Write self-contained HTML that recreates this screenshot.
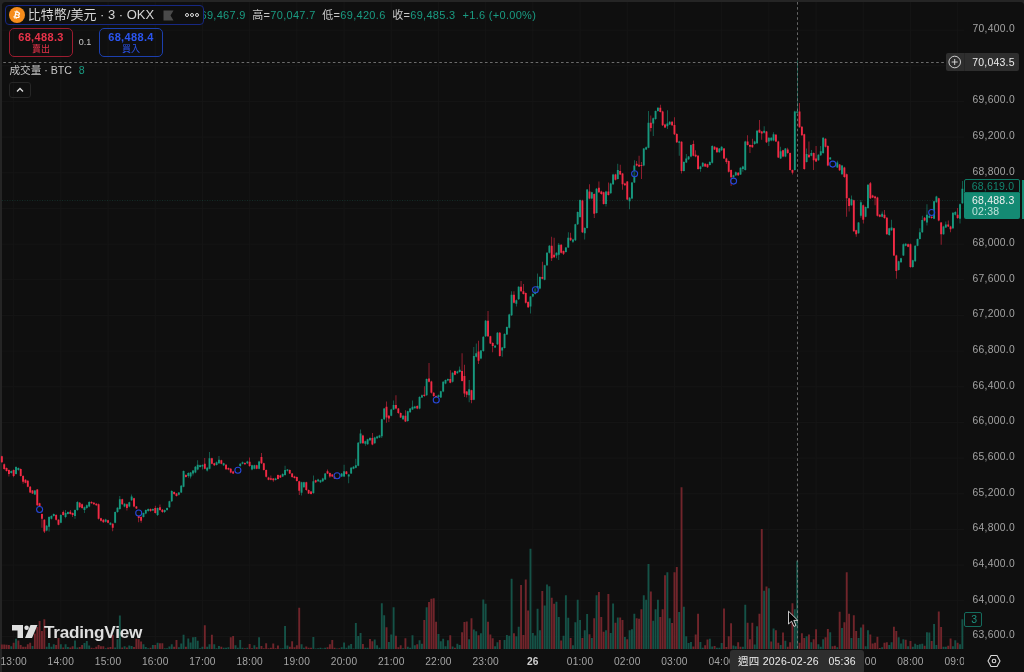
<!DOCTYPE html>
<html lang="zh-Hant">
<head>
<meta charset="utf-8">
<title>比特幣/美元 · 3 · OKX</title>
<style>
html,body{margin:0;padding:0;background:#252525;}
body{width:1024px;height:672px;position:relative;overflow:hidden;font-family:"Liberation Sans","Noto Sans CJK TC",sans-serif;color:#d1d4dc;}
#ui{position:absolute;left:0;top:0;width:1024px;height:672px;will-change:transform;}
#pane{position:absolute;left:2.4px;top:2px;width:1021.6px;height:670px;background:#0f0f0f;border-radius:3.5px 3.5px 0 0;}
svg#chart{position:absolute;left:0;top:0;}
.pl{position:absolute;left:964px;width:51px;text-align:right;font-size:10.3px;line-height:16px;letter-spacing:0.3px;color:#a4a4a4;white-space:nowrap;}
#axis{position:absolute;left:0;top:650px;width:964px;height:22px;overflow:hidden;}
.tl{position:absolute;top:3.7px;width:60px;text-align:center;font-size:10.2px;line-height:16px;letter-spacing:0.2px;color:#a4a4a4;white-space:nowrap;}
.tl.b{font-weight:bold;color:#cfcfcf;}
#title{position:absolute;left:4.8px;top:4.6px;width:197px;height:18.2px;border:1.2px solid #172882;border-radius:4px;background:#0f0f0f;}
#coin{position:absolute;left:2.8px;top:1.9px;width:16px;height:16px;border-radius:50%;background:#f68c1b;color:#fff;font-size:8.8px;font-weight:bold;line-height:16px;text-align:center;}
#coin span{display:block;transform:rotate(13deg);}
#tname{position:absolute;left:22px;top:-1px;font-size:13px;line-height:20px;color:#d6d6d6;white-space:nowrap;letter-spacing:0px;}
#ohlc span{position:absolute;top:7.3px;font-size:11px;line-height:16px;white-space:nowrap;color:#c8c8c8;letter-spacing:0.3px;}
#ohlc b{font-weight:normal;color:#1a9b82;}
.bs{position:absolute;top:28px;width:62px;height:27px;border-radius:5px;text-align:center;}
.bs .p{font-size:11px;font-weight:bold;line-height:13px;margin-top:2px;letter-spacing:0.35px;}
.bs .t{font-size:9px;line-height:11px;}
#sell{left:9px;border:1px solid #9c1c30;color:#e8334a;}
#buy{left:99px;border:1px solid #1c3fae;color:#2b55f0;}
#spread{position:absolute;left:76px;top:36px;width:18px;text-align:center;font-size:9px;line-height:12px;color:#c8c8c8;}
#vol{position:absolute;left:9.5px;top:62px;font-size:10.6px;line-height:16px;color:#c8c8c8;white-space:nowrap;}
#vol b{font-weight:normal;color:#1a9b82;margin-left:4px;}
#collapse{position:absolute;left:9px;top:82px;width:22px;height:16px;border:1px solid #262626;border-radius:3px;box-sizing:border-box;}
#chl{position:absolute;left:946px;top:53px;width:73px;height:18px;background:#2e2e2e;border-radius:2px;}
#chl span{position:absolute;right:4.3px;top:1px;font-size:10.5px;line-height:16px;letter-spacing:0.2px;color:#ececec;}
#chl i{position:absolute;left:18px;top:0;width:1px;height:18px;background:#272727;}
#lb1{position:absolute;left:964px;top:179px;width:55.5px;height:14px;box-sizing:border-box;border:1px solid #0f7a65;border-radius:2px 2px 0 0;background:#0f0f0f;color:#12856f;font-size:10.5px;line-height:12px;letter-spacing:0.2px;text-align:right;padding-right:4.3px;}
#lb2{position:absolute;left:964px;top:193px;width:55.5px;height:26px;box-sizing:border-box;border-radius:0 0 2px 2px;background:#148a73;color:#f0f0f0;font-size:10.5px;line-height:11.3px;letter-spacing:0.2px;padding:2px 0 0 8px;}
#lb2 em{font-style:normal;color:#bfe3db;}
#strip{position:absolute;left:1022px;top:180px;width:2px;height:39px;background:#148a73;}
#v3{position:absolute;left:964px;top:612px;width:18px;height:15px;box-sizing:border-box;border:1px solid #156b5d;border-radius:2px;color:#1c917e;font-size:10.5px;line-height:13px;text-align:center;background:#0f0f0f;padding-left:2.5px;}
#tcl{position:absolute;left:730px;top:649.5px;width:134px;height:24px;background:#2e2e2e;border-radius:3px;color:#ececec;font-size:10.5px;line-height:23px;white-space:pre;letter-spacing:0.25px;}
#tcl span{position:absolute;left:8px;}
#logo{position:absolute;left:12px;top:624px;}
</style>
</head>
<body>
<div id="pane"></div>
<div id="ui">
<svg id="chart" width="1024" height="672" viewBox="0 0 1024 672">
<rect x="2" y="29.7" width="962" height="0.9" fill="#161616"/>
<rect x="2" y="65.36" width="962" height="0.9" fill="#161616"/>
<rect x="2" y="101.02" width="962" height="0.9" fill="#161616"/>
<rect x="2" y="136.68" width="962" height="0.9" fill="#161616"/>
<rect x="2" y="172.34" width="962" height="0.9" fill="#161616"/>
<rect x="2" y="208" width="962" height="0.9" fill="#161616"/>
<rect x="2" y="243.66" width="962" height="0.9" fill="#161616"/>
<rect x="2" y="279.32" width="962" height="0.9" fill="#161616"/>
<rect x="2" y="314.98" width="962" height="0.9" fill="#161616"/>
<rect x="2" y="350.64" width="962" height="0.9" fill="#161616"/>
<rect x="2" y="386.3" width="962" height="0.9" fill="#161616"/>
<rect x="2" y="421.96" width="962" height="0.9" fill="#161616"/>
<rect x="2" y="457.62" width="962" height="0.9" fill="#161616"/>
<rect x="2" y="493.28" width="962" height="0.9" fill="#161616"/>
<rect x="2" y="528.94" width="962" height="0.9" fill="#161616"/>
<rect x="2" y="564.6" width="962" height="0.9" fill="#161616"/>
<rect x="2" y="600.26" width="962" height="0.9" fill="#161616"/>
<rect x="2" y="635.92" width="962" height="0.9" fill="#161616"/>
<rect x="13.2" y="2" width="0.9" height="648" fill="#161616"/>
<rect x="60.4" y="2" width="0.9" height="648" fill="#161616"/>
<rect x="107.6" y="2" width="0.9" height="648" fill="#161616"/>
<rect x="154.8" y="2" width="0.9" height="648" fill="#161616"/>
<rect x="202" y="2" width="0.9" height="648" fill="#161616"/>
<rect x="249.2" y="2" width="0.9" height="648" fill="#161616"/>
<rect x="296.4" y="2" width="0.9" height="648" fill="#161616"/>
<rect x="343.6" y="2" width="0.9" height="648" fill="#161616"/>
<rect x="390.8" y="2" width="0.9" height="648" fill="#161616"/>
<rect x="438" y="2" width="0.9" height="648" fill="#161616"/>
<rect x="485.2" y="2" width="0.9" height="648" fill="#161616"/>
<rect x="532.4" y="2" width="0.9" height="648" fill="#161616"/>
<rect x="579.6" y="2" width="0.9" height="648" fill="#161616"/>
<rect x="626.8" y="2" width="0.9" height="648" fill="#161616"/>
<rect x="674" y="2" width="0.9" height="648" fill="#161616"/>
<rect x="721.2" y="2" width="0.9" height="648" fill="#161616"/>
<rect x="768.4" y="2" width="0.9" height="648" fill="#161616"/>
<rect x="815.6" y="2" width="0.9" height="648" fill="#161616"/>
<rect x="862.8" y="2" width="0.9" height="648" fill="#161616"/>
<rect x="910" y="2" width="0.9" height="648" fill="#161616"/>
<rect x="957.2" y="2" width="0.9" height="648" fill="#161616"/>
<path d="M10.34 646.19h1.9V649h-1.9zM15.06 638.84h1.9V649h-1.9zM31.58 645.88h1.9V649h-1.9zM45.74 646.66h1.9V649h-1.9zM48.1 643.06h1.9V649h-1.9zM50.46 646.66h1.9V649h-1.9zM52.82 644.31h1.9V649h-1.9zM59.9 644.31h1.9V649h-1.9zM64.62 644.31h1.9V649h-1.9zM66.98 647.12h1.9V649h-1.9zM74.06 640.41h1.9V649h-1.9zM76.42 647.44h1.9V649h-1.9zM83.5 643.06h1.9V649h-1.9zM85.86 640.88h1.9V649h-1.9zM88.22 645.56h1.9V649h-1.9zM104.74 648.22h1.9V649h-1.9zM114.18 647.44h1.9V649h-1.9zM116.54 639.31h1.9V649h-1.9zM118.9 615.41h1.9V649h-1.9zM123.62 646.19h1.9V649h-1.9zM128.34 645.56h1.9V649h-1.9zM130.7 645.88h1.9V649h-1.9zM142.5 644.31h1.9V649h-1.9zM144.86 647.12h1.9V649h-1.9zM147.22 648.22h1.9V649h-1.9zM151.94 645.09h1.9V649h-1.9zM156.66 642.75h1.9V649h-1.9zM163.74 648.3h1.9V649h-1.9zM166.1 648.3h1.9V649h-1.9zM168.46 646.42h1.9V649h-1.9zM170.82 644.31h1.9V649h-1.9zM177.9 647.13h1.9V649h-1.9zM180.26 643.61h1.9V649h-1.9zM182.62 634.7h1.9V649h-1.9zM187.34 638.45h1.9V649h-1.9zM189.7 642.44h1.9V649h-1.9zM192.06 637.28h1.9V649h-1.9zM194.42 637.05h1.9V649h-1.9zM196.78 640.8h1.9V649h-1.9zM199.14 648.3h1.9V649h-1.9zM201.5 646.66h1.9V649h-1.9zM206.22 646.66h1.9V649h-1.9zM208.58 644.31h1.9V649h-1.9zM213.3 644.31h1.9V649h-1.9zM215.66 648.3h1.9V649h-1.9zM218.02 645.95h1.9V649h-1.9zM222.74 647.83h1.9V649h-1.9zM225.1 647.83h1.9V649h-1.9zM227.46 647.13h1.9V649h-1.9zM234.54 645.25h1.9V649h-1.9zM236.9 647.83h1.9V649h-1.9zM239.26 640.09h1.9V649h-1.9zM241.62 647.83h1.9V649h-1.9zM246.34 647.83h1.9V649h-1.9zM253.42 645.25h1.9V649h-1.9zM258.14 637.28h1.9V649h-1.9zM279.38 648.4h1.9V649h-1.9zM281.74 648.3h1.9V649h-1.9zM284.1 626.03h1.9V649h-1.9zM286.46 645.48h1.9V649h-1.9zM300.62 644.31h1.9V649h-1.9zM302.98 647.83h1.9V649h-1.9zM312.42 637.05h1.9V649h-1.9zM314.78 648.4h1.9V649h-1.9zM317.14 648.3h1.9V649h-1.9zM319.5 647.83h1.9V649h-1.9zM321.86 648.4h1.9V649h-1.9zM324.22 647.83h1.9V649h-1.9zM336.02 648.4h1.9V649h-1.9zM340.74 647.13h1.9V649h-1.9zM343.1 642.44h1.9V649h-1.9zM345.46 647.83h1.9V649h-1.9zM347.82 645.48h1.9V649h-1.9zM350.18 644.08h1.9V649h-1.9zM352.54 648.4h1.9V649h-1.9zM354.9 622.99h1.9V649h-1.9zM357.26 636.11h1.9V649h-1.9zM359.62 633.06h1.9V649h-1.9zM364.34 647.83h1.9V649h-1.9zM366.7 647.83h1.9V649h-1.9zM373.78 639.39h1.9V649h-1.9zM376.14 645.25h1.9V649h-1.9zM378.5 647.83h1.9V649h-1.9zM380.86 603.33h1.9V649h-1.9zM383.22 615.33h1.9V649h-1.9zM387.94 642h1.9V649h-1.9zM390.3 634.5h1.9V649h-1.9zM392.66 607.33h1.9V649h-1.9zM402.1 648.33h1.9V649h-1.9zM406.82 646.67h1.9V649h-1.9zM409.18 647.83h1.9V649h-1.9zM411.54 635.33h1.9V649h-1.9zM413.9 645.33h1.9V649h-1.9zM418.62 640.33h1.9V649h-1.9zM420.98 643.67h1.9V649h-1.9zM425.7 607.33h1.9V649h-1.9zM437.5 634h1.9V649h-1.9zM439.86 641.17h1.9V649h-1.9zM442.22 638.67h1.9V649h-1.9zM444.58 646.17h1.9V649h-1.9zM446.94 640.33h1.9V649h-1.9zM451.66 646.5h1.9V649h-1.9zM456.38 643.67h1.9V649h-1.9zM458.74 645h1.9V649h-1.9zM468.18 639.17h1.9V649h-1.9zM472.9 629.5h1.9V649h-1.9zM475.26 631.17h1.9V649h-1.9zM479.98 633.17h1.9V649h-1.9zM482.34 599.5h1.9V649h-1.9zM484.7 603.67h1.9V649h-1.9zM494.14 646.17h1.9V649h-1.9zM496.5 642.33h1.9V649h-1.9zM503.58 640.04h1.9V649h-1.9zM505.94 634.93h1.9V649h-1.9zM508.3 635.69h1.9V649h-1.9zM510.66 578.63h1.9V649h-1.9zM515.38 636.21h1.9V649h-1.9zM517.74 626.74h1.9V649h-1.9zM529.54 548.69h1.9V649h-1.9zM531.9 632.88h1.9V649h-1.9zM534.26 635.44h1.9V649h-1.9zM536.62 608.83h1.9V649h-1.9zM538.98 630.32h1.9V649h-1.9zM543.7 605.5h1.9V649h-1.9zM546.06 584.52h1.9V649h-1.9zM548.42 586.31h1.9V649h-1.9zM555.5 601.66h1.9V649h-1.9zM557.86 617.01h1.9V649h-1.9zM562.58 635.69h1.9V649h-1.9zM564.94 595.26h1.9V649h-1.9zM567.3 617.78h1.9V649h-1.9zM572.02 645.16h1.9V649h-1.9zM574.38 622.13h1.9V649h-1.9zM576.74 599.87h1.9V649h-1.9zM579.1 620.08h1.9V649h-1.9zM583.82 630.32h1.9V649h-1.9zM586.18 613.94h1.9V649h-1.9zM590.9 638h1.9V649h-1.9zM595.62 595.26h1.9V649h-1.9zM605.06 630.32h1.9V649h-1.9zM609.78 632.88h1.9V649h-1.9zM612.14 603.45h1.9V649h-1.9zM616.86 617.53h1.9V649h-1.9zM623.94 636.97h1.9V649h-1.9zM628.66 630.32h1.9V649h-1.9zM631.02 629.3h1.9V649h-1.9zM633.38 613.69h1.9V649h-1.9zM642.82 595.26h1.9V649h-1.9zM645.18 599.87h1.9V649h-1.9zM647.54 564.05h1.9V649h-1.9zM652.26 620.85h1.9V649h-1.9zM654.62 609.34h1.9V649h-1.9zM656.98 599.87h1.9V649h-1.9zM666.42 572.23h1.9V649h-1.9zM668.78 618.29h1.9V649h-1.9zM678.22 611.9h1.9V649h-1.9zM682.94 606.78h1.9V649h-1.9zM685.3 636.21h1.9V649h-1.9zM687.66 643.11h1.9V649h-1.9zM690.02 642.09h1.9V649h-1.9zM699.46 642.09h1.9V649h-1.9zM701.82 647.72h1.9V649h-1.9zM708.9 638.76h1.9V649h-1.9zM711.26 646.44h1.9V649h-1.9zM715.98 647.72h1.9V649h-1.9zM718.34 647.72h1.9V649h-1.9zM720.7 643.11h1.9V649h-1.9zM732.5 645.48h1.9V649h-1.9zM734.86 646.19h1.9V649h-1.9zM741.94 646.66h1.9V649h-1.9zM744.3 604.71h1.9V649h-1.9zM753.74 644.55h1.9V649h-1.9zM756.1 626.27h1.9V649h-1.9zM763.18 590.65h1.9V649h-1.9zM767.9 588.3h1.9V649h-1.9zM772.62 628.61h1.9V649h-1.9zM779.7 645.02h1.9V649h-1.9zM784.42 640.8h1.9V649h-1.9zM793.86 609.16h1.9V649h-1.9zM796.22 560.65h1.9V649h-1.9zM805.66 636.34h1.9V649h-1.9zM810.38 642.2h1.9V649h-1.9zM817.46 644.31h1.9V649h-1.9zM819.82 646.66h1.9V649h-1.9zM822.18 639.16h1.9V649h-1.9zM829.26 632.13h1.9V649h-1.9zM836.34 647.36h1.9V649h-1.9zM841.06 627.91h1.9V649h-1.9zM850.5 637.99h1.9V649h-1.9zM857.58 637.99h1.9V649h-1.9zM859.94 627.44h1.9V649h-1.9zM864.66 646.19h1.9V649h-1.9zM867.02 630.25h1.9V649h-1.9zM881.18 647.36h1.9V649h-1.9zM888.26 645.02h1.9V649h-1.9zM890.62 642.2h1.9V649h-1.9zM897.7 637.28h1.9V649h-1.9zM900.06 643.38h1.9V649h-1.9zM902.42 639.16h1.9V649h-1.9zM907.14 646.19h1.9V649h-1.9zM911.86 646.66h1.9V649h-1.9zM914.22 643.84h1.9V649h-1.9zM916.58 645.02h1.9V649h-1.9zM918.94 644.31h1.9V649h-1.9zM921.3 643.84h1.9V649h-1.9zM926.02 632.13h1.9V649h-1.9zM928.38 632.6h1.9V649h-1.9zM933.1 623.92h1.9V649h-1.9zM935.46 645.02h1.9V649h-1.9zM942.54 646.66h1.9V649h-1.9zM944.9 646.66h1.9V649h-1.9zM951.98 646.19h1.9V649h-1.9zM954.34 640.33h1.9V649h-1.9zM959.06 644.31h1.9V649h-1.9zM961.42 619.24h1.9V649h-1.9z" fill="#155247"/>
<path d="M0.9 644.62h1.9V649h-1.9zM3.26 644.62h1.9V649h-1.9zM5.62 644.78h1.9V649h-1.9zM7.98 645.09h1.9V649h-1.9zM12.7 642.75h1.9V649h-1.9zM17.42 640.41h1.9V649h-1.9zM19.78 645.09h1.9V649h-1.9zM22.14 646.66h1.9V649h-1.9zM24.5 646.66h1.9V649h-1.9zM26.86 644.31h1.9V649h-1.9zM29.22 642.75h1.9V649h-1.9zM33.94 633.38h1.9V649h-1.9zM36.3 627.12h1.9V649h-1.9zM38.66 620.88h1.9V649h-1.9zM41.02 631.03h1.9V649h-1.9zM43.38 619.31h1.9V649h-1.9zM55.18 645.09h1.9V649h-1.9zM57.54 638.06h1.9V649h-1.9zM62.26 647.44h1.9V649h-1.9zM69.34 647.44h1.9V649h-1.9zM71.7 646.19h1.9V649h-1.9zM78.78 647.12h1.9V649h-1.9zM81.14 645.09h1.9V649h-1.9zM90.58 647.75h1.9V649h-1.9zM92.94 648.22h1.9V649h-1.9zM95.3 646.66h1.9V649h-1.9zM97.66 645.09h1.9V649h-1.9zM100.02 646.19h1.9V649h-1.9zM102.38 646.19h1.9V649h-1.9zM107.1 647.44h1.9V649h-1.9zM109.46 647.12h1.9V649h-1.9zM111.82 634.94h1.9V649h-1.9zM121.26 647.44h1.9V649h-1.9zM125.98 647.44h1.9V649h-1.9zM133.06 647.12h1.9V649h-1.9zM135.42 638.84h1.9V649h-1.9zM137.78 639.31h1.9V649h-1.9zM140.14 641.5h1.9V649h-1.9zM149.58 647.75h1.9V649h-1.9zM154.3 645.09h1.9V649h-1.9zM159.02 643.14h1.9V649h-1.9zM161.38 643.14h1.9V649h-1.9zM173.18 646.66h1.9V649h-1.9zM175.54 640.09h1.9V649h-1.9zM184.98 646.66h1.9V649h-1.9zM203.86 625.33h1.9V649h-1.9zM210.94 634.7h1.9V649h-1.9zM220.38 646.66h1.9V649h-1.9zM229.82 637.28h1.9V649h-1.9zM232.18 635.88h1.9V649h-1.9zM243.98 648.3h1.9V649h-1.9zM248.7 644.08h1.9V649h-1.9zM251.06 648.3h1.9V649h-1.9zM255.78 647.13h1.9V649h-1.9zM260.5 645.95h1.9V649h-1.9zM262.86 648.3h1.9V649h-1.9zM265.22 643.14h1.9V649h-1.9zM267.58 648.3h1.9V649h-1.9zM269.94 647.83h1.9V649h-1.9zM272.3 643.61h1.9V649h-1.9zM274.66 648.3h1.9V649h-1.9zM277.02 645.48h1.9V649h-1.9zM288.82 646.66h1.9V649h-1.9zM291.18 641.27h1.9V649h-1.9zM293.54 647.13h1.9V649h-1.9zM295.9 645.25h1.9V649h-1.9zM298.26 607.75h1.9V649h-1.9zM305.34 646.42h1.9V649h-1.9zM307.7 647.83h1.9V649h-1.9zM310.06 647.83h1.9V649h-1.9zM326.58 647.13h1.9V649h-1.9zM328.94 644.31h1.9V649h-1.9zM331.3 640.09h1.9V649h-1.9zM333.66 647.83h1.9V649h-1.9zM338.38 648.3h1.9V649h-1.9zM361.98 644.08h1.9V649h-1.9zM369.06 638.92h1.9V649h-1.9zM371.42 641.27h1.9V649h-1.9zM385.58 627.33h1.9V649h-1.9zM395.02 635.67h1.9V649h-1.9zM397.38 647.33h1.9V649h-1.9zM399.74 645.33h1.9V649h-1.9zM404.46 638.33h1.9V649h-1.9zM416.26 644.17h1.9V649h-1.9zM423.34 620h1.9V649h-1.9zM428.06 602h1.9V649h-1.9zM430.42 598.67h1.9V649h-1.9zM432.78 598.33h1.9V649h-1.9zM435.14 621.67h1.9V649h-1.9zM449.3 635.33h1.9V649h-1.9zM454.02 647.83h1.9V649h-1.9zM461.1 632.33h1.9V649h-1.9zM463.46 622h1.9V649h-1.9zM465.82 621.5h1.9V649h-1.9zM470.54 618.33h1.9V649h-1.9zM477.62 635.33h1.9V649h-1.9zM487.06 621.67h1.9V649h-1.9zM489.42 634.5h1.9V649h-1.9zM491.78 638.33h1.9V649h-1.9zM498.86 640h1.9V649h-1.9zM513.02 633.14h1.9V649h-1.9zM520.1 585.03h1.9V649h-1.9zM522.46 634.93h1.9V649h-1.9zM524.82 579.4h1.9V649h-1.9zM527.18 610.62h1.9V649h-1.9zM541.34 590.91h1.9V649h-1.9zM550.78 597.82h1.9V649h-1.9zM553.14 603.71h1.9V649h-1.9zM560.22 640.56h1.9V649h-1.9zM569.66 638h1.9V649h-1.9zM581.46 638h1.9V649h-1.9zM588.54 634.16h1.9V649h-1.9zM593.26 618.29h1.9V649h-1.9zM597.98 591.94h1.9V649h-1.9zM600.34 617.01h1.9V649h-1.9zM602.7 631.86h1.9V649h-1.9zM607.42 593.98h1.9V649h-1.9zM614.5 622.64h1.9V649h-1.9zM619.22 617.53h1.9V649h-1.9zM621.58 620.08h1.9V649h-1.9zM626.3 639.28h1.9V649h-1.9zM635.74 618.29h1.9V649h-1.9zM638.1 618.81h1.9V649h-1.9zM640.46 609.34h1.9V649h-1.9zM649.9 591.43h1.9V649h-1.9zM659.34 617.01h1.9V649h-1.9zM661.7 609.34h1.9V649h-1.9zM664.06 575.31h1.9V649h-1.9zM671.14 622.9h1.9V649h-1.9zM673.5 572.23h1.9V649h-1.9zM675.86 567.12h1.9V649h-1.9zM680.58 487.28h1.9V649h-1.9zM692.38 646.44h1.9V649h-1.9zM694.74 634.41h1.9V649h-1.9zM697.1 613.69h1.9V649h-1.9zM704.18 645.16h1.9V649h-1.9zM706.54 639.53h1.9V649h-1.9zM713.62 645.93h1.9V649h-1.9zM723.06 608.57h1.9V649h-1.9zM725.42 646.95h1.9V649h-1.9zM727.78 636.21h1.9V649h-1.9zM730.14 623.22h1.9V649h-1.9zM737.22 642.2h1.9V649h-1.9zM739.58 646.66h1.9V649h-1.9zM746.66 622.75h1.9V649h-1.9zM749.02 639.16h1.9V649h-1.9zM751.38 622.75h1.9V649h-1.9zM758.46 613.85h1.9V649h-1.9zM760.82 529.01h1.9V649h-1.9zM765.54 586.43h1.9V649h-1.9zM770.26 641.5h1.9V649h-1.9zM774.98 630.25h1.9V649h-1.9zM777.34 642.67h1.9V649h-1.9zM782.06 632.6h1.9V649h-1.9zM786.78 646.66h1.9V649h-1.9zM789.14 642.2h1.9V649h-1.9zM791.5 603.3h1.9V649h-1.9zM798.58 642.67h1.9V649h-1.9zM800.94 633.3h1.9V649h-1.9zM803.3 637.99h1.9V649h-1.9zM808.02 634.47h1.9V649h-1.9zM812.74 639.16h1.9V649h-1.9zM815.1 629.31h1.9V649h-1.9zM824.54 637.28h1.9V649h-1.9zM826.9 629.08h1.9V649h-1.9zM831.62 646.19h1.9V649h-1.9zM833.98 645.72h1.9V649h-1.9zM838.7 611.74h1.9V649h-1.9zM843.42 622.28h1.9V649h-1.9zM845.78 572.37h1.9V649h-1.9zM848.14 613.85h1.9V649h-1.9zM852.86 615.25h1.9V649h-1.9zM855.22 630.95h1.9V649h-1.9zM862.3 624.39h1.9V649h-1.9zM869.38 634.47h1.9V649h-1.9zM871.74 643.38h1.9V649h-1.9zM874.1 642.67h1.9V649h-1.9zM876.46 636.81h1.9V649h-1.9zM878.82 648.06h1.9V649h-1.9zM883.54 642.67h1.9V649h-1.9zM885.9 642.2h1.9V649h-1.9zM892.98 626.74h1.9V649h-1.9zM895.34 630.95h1.9V649h-1.9zM904.78 639.63h1.9V649h-1.9zM909.5 641.03h1.9V649h-1.9zM923.66 645.72h1.9V649h-1.9zM930.74 641.03h1.9V649h-1.9zM937.82 611.5h1.9V649h-1.9zM940.18 626.97h1.9V649h-1.9zM947.26 645.72h1.9V649h-1.9zM949.62 638.45h1.9V649h-1.9zM956.7 642.67h1.9V649h-1.9z" fill="#71252b"/>
<line x1="2" y1="200.5" x2="964" y2="200.5" stroke="#1a6b5b" stroke-width="1" stroke-dasharray="1 1.5" opacity="0.32"/>
<path d="M10.96 470.42h0.66V473.57h-0.66zM15.68 466.13h0.66V474.55h-0.66zM18.04 467.49h0.66V470.64h-0.66zM34.56 489.95h0.66V495.05h-0.66zM46.36 525.1h0.66V531.19h-0.66zM48.72 516.31h0.66V531.56h-0.66zM51.08 515.34h0.66V519.47h-0.66zM53.44 513.38h0.66V516.54h-0.66zM60.52 514.36h0.66V523.37h-0.66zM65.24 510.08h0.66V518.28h-0.66zM67.6 511.43h0.66V514.58h-0.66zM74.68 509.48h0.66V518.87h-0.66zM77.04 501.27h0.66V510.68h-0.66zM84.12 506.55h0.66V513.01h-0.66zM86.48 504.6h0.66V508.73h-0.66zM88.84 501.27h0.66V507.16h-0.66zM105.36 518.85h0.66V522.4h-0.66zM110.08 522.17h0.66V525.33h-0.66zM114.8 511.43h0.66V523.37h-0.66zM117.16 507.13h0.66V512.63h-0.66zM119.52 496.02h0.66V509.7h-0.66zM124.24 503.23h0.66V507.16h-0.66zM128.96 501.67h0.66V507.16h-0.66zM131.32 494.45h0.66V500.91h-0.66zM143.12 512.41h0.66V517.51h-0.66zM145.48 509.48h0.66V514.19h-0.66zM147.84 508.5h0.66V511.65h-0.66zM152.56 508.5h0.66V511.07h-0.66zM157.28 507.52h0.66V515.94h-0.66zM164.36 509.48h0.66V513.01h-0.66zM166.72 507.52h0.66V510.68h-0.66zM169.08 500.69h0.66V507.75h-0.66zM171.44 490.34h0.66V501.89h-0.66zM178.52 491.9h0.66V495.44h-0.66zM180.88 485.06h0.66V493.1h-0.66zM183.24 470.42h0.66V487.24h-0.66zM187.96 472.37h0.66V477.85h-0.66zM190.32 471.94h0.66V478.4h-0.66zM192.68 469.99h0.66V475.47h-0.66zM195.04 466.08h0.66V473.14h-0.66zM197.4 460.23h0.66V470.21h-0.66zM199.76 464.71h0.66V467.48h-0.66zM202.12 464.32h0.66V469.61h-0.66zM206.84 467.06h0.66V471.56h-0.66zM209.2 452.03h0.66V469.23h-0.66zM216.28 461.59h0.66V465.52h-0.66zM218.64 455.94h0.66V463.96h-0.66zM223.36 462.76h0.66V465.91h-0.66zM239.88 463.15h0.66V466.69h-0.66zM242.24 461.59h0.66V464.35h-0.66zM246.96 460.81h0.66V463.96h-0.66zM251.68 464.71h0.66V470.21h-0.66zM254.04 464.71h0.66V469.23h-0.66zM258.76 460.81h0.66V469.23h-0.66zM275.28 477.8h0.66V480.56h-0.66zM282.36 473.31h0.66V477.05h-0.66zM284.72 465.7h0.66V475.68h-0.66zM287.08 469.01h0.66V471.38h-0.66zM301.24 481.7h0.66V495.39h-0.66zM303.6 481.7h0.66V487.79h-0.66zM313.04 475.47h0.66V493.65h-0.66zM317.76 478.77h0.66V481.93h-0.66zM320.12 479.75h0.66V482.9h-0.66zM322.48 477.8h0.66V481.93h-0.66zM324.84 472.92h0.66V479.98h-0.66zM341.36 472.92h0.66V477.05h-0.66zM343.72 464.73h0.66V477.05h-0.66zM348.44 473.89h0.66V483.28h-0.66zM350.8 467.06h0.66V474.12h-0.66zM353.16 466.08h0.66V469.23h-0.66zM355.52 458.87h0.66V468.26h-0.66zM357.88 442.06h0.66V466.3h-0.66zM360.24 429.57h0.66V443.84h-0.66zM364.96 440.69h0.66V445.78h-0.66zM367.32 438.74h0.66V444.82h-0.66zM369.68 437.37h0.66V440.91h-0.66zM374.4 436.78h0.66V443.84h-0.66zM376.76 435.81h0.66V438.96h-0.66zM379.12 434.83h0.66V437.98h-0.66zM381.48 418.69h0.66V438.04h-0.66zM383.84 407.97h0.66V419.89h-0.66zM390.92 408.86h0.66V416.31h-0.66zM393.28 400.54h0.66V410.06h-0.66zM402.72 415.11h0.66V419.89h-0.66zM407.44 410.65h0.66V421.67h-0.66zM409.8 407.97h0.66V412.74h-0.66zM412.16 400.54h0.66V410.06h-0.66zM414.52 405.83h0.66V408.81h-0.66zM419.24 396.36h0.66V409.17h-0.66zM421.6 394.58h0.66V398.1h-0.66zM426.32 378.51h0.66V395.78h-0.66zM438.12 394.58h0.66V397.56h-0.66zM440.48 390.65h0.66V398.1h-0.66zM442.84 381.19h0.66V392.21h-0.66zM445.2 379.4h0.66V384.17h-0.66zM447.56 378.51h0.66V381.14h-0.66zM452.28 372.26h0.66V382.39h-0.66zM457 370.83h0.66V373.81h-0.66zM459.36 366.61h0.66V372.56h-0.66zM468.8 380h0.66V402.32h-0.66zM473.52 346.96h0.66V400.24h-0.66zM475.88 343.39h0.66V357.39h-0.66zM480.6 349.94h0.66V359.17h-0.66zM482.96 336.2h0.66V351.7h-0.66zM485.32 320.1h0.66V336.9h-0.66zM494.76 345.1h0.66V348.1h-0.66zM497.12 332.1h0.66V344.9h-0.66zM501.84 346.9h0.66V356.8h-0.66zM504.2 333.3h0.66V348.5h-0.66zM506.56 326.4h0.66V335.1h-0.66zM508.92 313.86h0.66V328.46h-0.66zM511.28 291.25h0.66V315.96h-0.66zM516 299.58h0.66V306.43h-0.66zM518.36 286.19h0.66V299.89h-0.66zM530.16 296.01h0.66V313.57h-0.66zM532.52 293.33h0.66V297.21h-0.66zM534.88 287.97h0.66V294.53h-0.66zM537.24 273.39h0.66V293.04h-0.66zM539.6 276.36h0.66V289.17h-0.66zM544.32 264.76h0.66V280.24h-0.66zM546.68 252.26h0.66V265.96h-0.66zM549.04 245.11h0.66V253.46h-0.66zM556.12 252.26h0.66V258.21h-0.66zM558.48 243.04h0.66V260h-0.66zM565.56 246.9h0.66V252.56h-0.66zM567.92 232.32h0.66V248.1h-0.66zM572.64 238.86h0.66V243.04h-0.66zM575 223.69h0.66V240.96h-0.66zM577.36 211.4h0.66V224.9h-0.66zM579.72 199.4h0.66V217.7h-0.66zM584.44 227.3h0.66V239.5h-0.66zM586.8 189h0.66V228.5h-0.66zM591.52 191.7h0.66V199.2h-0.66zM596.24 188.1h0.66V213.5h-0.66zM605.68 190.83h0.66V206.61h-0.66zM610.4 182.79h0.66V193.81h-0.66zM612.76 173.86h0.66V184.89h-0.66zM617.48 163.75h0.66V179.53h-0.66zM629.28 197.08h0.66V209.29h-0.66zM631.64 181.9h0.66V199.17h-0.66zM634 160.18h0.66V183.1h-0.66zM643.44 147.97h0.66V166.14h-0.66zM645.8 146.54h0.66V150.06h-0.66zM648.16 111.07h0.66V148.28h-0.66zM652.88 117.61h0.66V136.07h-0.66zM655.24 110.47h0.66V119.71h-0.66zM657.6 107.26h0.66V111.67h-0.66zM667.04 110.18h0.66V128.93h-0.66zM669.4 121.19h0.66V125.06h-0.66zM678.84 140.83h0.66V155.71h-0.66zM683.56 161.36h0.66V171.49h-0.66zM685.92 153.93h0.66V163.1h-0.66zM688.28 156.01h0.66V159.89h-0.66zM690.64 144.4h0.66V157.21h-0.66zM700.08 165.83h0.66V171.79h-0.66zM702.44 162.26h0.66V167.03h-0.66zM709.52 161.36h0.66V165.6h-0.66zM711.88 145.29h0.66V163.46h-0.66zM718.96 147.97h0.66V152.74h-0.66zM721.32 146.19h0.66V150.96h-0.66zM733.12 174.76h0.66V177.74h-0.66zM735.48 171.54h0.66V175.96h-0.66zM740.2 167.26h0.66V175.06h-0.66zM742.56 165.83h0.66V171.79h-0.66zM744.92 140.83h0.66V170.6h-0.66zM754.36 140.83h0.66V144.71h-0.66zM756.72 130.11h0.66V143.81h-0.66zM763.8 126.25h0.66V133.46h-0.66zM768.52 137.26h0.66V145.89h-0.66zM770.88 137.26h0.66V141.14h-0.66zM773.24 132.14h0.66V141.14h-0.66zM780.32 146.79h0.66V158.99h-0.66zM785.04 147.97h0.66V157.21h-0.66zM794.48 110.83h0.66V170.6h-0.66zM796.84 110.83h0.66V113.46h-0.66zM806.28 148.57h0.66V162.56h-0.66zM811 150h0.66V156.31h-0.66zM818.08 154.22h0.66V160.78h-0.66zM820.44 145.89h0.66V155.96h-0.66zM822.8 137.26h0.66V153.64h-0.66zM829.88 156.9h0.66V159.89h-0.66zM836.96 160.64h0.66V168.01h-0.66zM841.68 164.88h0.66V174.78h-0.66zM851.12 195.46h0.66V205.74h-0.66zM858.2 221.95h0.66V233.79h-0.66zM860.56 199.91h0.66V217.71h-0.66zM865.28 206.47h0.66V217.34h-0.66zM867.64 184.22h0.66V208.64h-0.66zM881.8 211.52h0.66V217.34h-0.66zM888.88 227.75h0.66V235.72h-0.66zM891.24 219.65h0.66V230.89h-0.66zM898.32 260.64h0.66V270.55h-0.66zM900.68 257.74h0.66V262.81h-0.66zM903.04 243.62h0.66V256.04h-0.66zM905.4 243.23h0.66V246.36h-0.66zM912.48 259.67h0.66V267.64h-0.66zM914.84 245.16h0.66V261.84h-0.66zM917.2 238.39h0.66V246.36h-0.66zM919.56 228.35h0.66V239.59h-0.66zM921.92 215.78h0.66V232.82h-0.66zM926.64 204.17h0.66V225.45h-0.66zM929 215.18h0.66V218.31h-0.66zM933.72 200.67h0.66V219.28h-0.66zM936.08 195.83h0.66V202.83h-0.66zM943.16 225.82h0.66V234.76h-0.66zM945.52 221.58h0.66V227.98h-0.66zM952.6 212.27h0.66V228.95h-0.66zM954.96 211.31h0.66V215.41h-0.66zM959.68 203.57h0.66V223.52h-0.66zM962.04 180.95h0.66V203.8h-0.66z" fill="#17987e" opacity="0.85"/>
<path d="M10.34 471.02h1.9V472.97h-1.9zM15.06 467.11h1.9V473.95h-1.9zM17.42 468.09h1.9V470.04h-1.9zM33.94 490.55h1.9V494.45h-1.9zM45.74 525.7h1.9V530.59h-1.9zM48.1 516.91h1.9V526.68h-1.9zM50.46 515.94h1.9V518.87h-1.9zM52.82 513.98h1.9V515.94h-1.9zM59.9 514.96h1.9V522.77h-1.9zM64.62 513.01h1.9V516.91h-1.9zM66.98 512.03h1.9V513.98h-1.9zM74.06 510.08h1.9V515.94h-1.9zM76.42 501.88h1.9V510.08h-1.9zM83.5 507.15h1.9V510.08h-1.9zM85.86 505.2h1.9V508.12h-1.9zM88.22 501.88h1.9V506.56h-1.9zM104.74 519.45h1.9V521.8h-1.9zM109.46 522.77h1.9V524.73h-1.9zM114.18 512.03h1.9V522.77h-1.9zM116.54 507.73h1.9V512.03h-1.9zM118.9 499.34h1.9V509.1h-1.9zM123.62 503.83h1.9V506.56h-1.9zM128.34 502.27h1.9V506.56h-1.9zM130.7 496.41h1.9V500.31h-1.9zM142.5 513.01h1.9V516.91h-1.9zM144.86 510.08h1.9V513.59h-1.9zM147.22 509.1h1.9V511.05h-1.9zM151.94 509.1h1.9V510.47h-1.9zM156.66 508.12h1.9V514.96h-1.9zM163.74 510.08h1.9V512.03h-1.9zM166.1 508.12h1.9V510.08h-1.9zM168.46 501.29h1.9V507.15h-1.9zM170.82 490.94h1.9V501.29h-1.9zM177.9 492.5h1.9V494.84h-1.9zM180.26 485.66h1.9V492.5h-1.9zM182.62 471.02h1.9V486.64h-1.9zM187.34 472.97h1.9V475.9h-1.9zM189.7 472.54h1.9V476.45h-1.9zM192.06 470.59h1.9V473.52h-1.9zM194.42 466.68h1.9V472.54h-1.9zM196.78 464.73h1.9V469.61h-1.9zM199.14 465.31h1.9V466.88h-1.9zM201.5 464.92h1.9V466.48h-1.9zM206.22 467.66h1.9V470.59h-1.9zM208.58 458.28h1.9V468.63h-1.9zM215.66 462.19h1.9V464.92h-1.9zM218.02 459.84h1.9V463.36h-1.9zM222.74 463.36h1.9V465.31h-1.9zM239.26 463.75h1.9V466.09h-1.9zM241.62 462.19h1.9V463.75h-1.9zM246.34 461.41h1.9V463.36h-1.9zM251.06 465.31h1.9V469.61h-1.9zM253.42 465.31h1.9V468.63h-1.9zM258.14 461.41h1.9V468.63h-1.9zM274.66 478.4h1.9V479.96h-1.9zM281.74 473.91h1.9V476.45h-1.9zM284.1 470h1.9V475.08h-1.9zM286.46 469.61h1.9V470.78h-1.9zM300.62 482.3h1.9V492.66h-1.9zM302.98 482.3h1.9V487.19h-1.9zM312.42 481.33h1.9V493.05h-1.9zM317.14 479.38h1.9V481.33h-1.9zM319.5 480.35h1.9V482.3h-1.9zM321.86 478.4h1.9V481.33h-1.9zM324.22 473.52h1.9V479.38h-1.9zM340.74 473.52h1.9V476.45h-1.9zM343.1 471.17h1.9V476.45h-1.9zM347.82 474.49h1.9V476.45h-1.9zM350.18 467.66h1.9V473.52h-1.9zM352.54 466.68h1.9V468.63h-1.9zM354.9 465.31h1.9V467.66h-1.9zM357.26 442.66h1.9V465.7h-1.9zM359.62 433.48h1.9V443.24h-1.9zM364.34 441.29h1.9V443.83h-1.9zM366.7 439.34h1.9V444.22h-1.9zM369.06 437.97h1.9V440.31h-1.9zM373.78 437.38h1.9V443.24h-1.9zM376.14 436.41h1.9V438.36h-1.9zM378.5 435.43h1.9V437.38h-1.9zM380.86 419.29h1.9V436.25h-1.9zM383.22 408.57h1.9V419.29h-1.9zM390.3 409.46h1.9V415.71h-1.9zM392.66 405h1.9V409.46h-1.9zM402.1 415.71h1.9V419.29h-1.9zM406.82 411.25h1.9V421.07h-1.9zM409.18 408.57h1.9V412.14h-1.9zM411.54 406.79h1.9V409.46h-1.9zM413.9 406.43h1.9V408.21h-1.9zM418.62 396.96h1.9V408.57h-1.9zM420.98 395.18h1.9V397.5h-1.9zM425.7 379.11h1.9V395.18h-1.9zM437.5 395.18h1.9V396.96h-1.9zM439.86 391.25h1.9V397.5h-1.9zM442.22 381.79h1.9V391.61h-1.9zM444.58 380h1.9V383.57h-1.9zM446.94 379.11h1.9V380.54h-1.9zM451.66 372.86h1.9V381.79h-1.9zM456.38 371.43h1.9V373.21h-1.9zM458.74 369.64h1.9V371.96h-1.9zM468.18 389.29h1.9V395.18h-1.9zM472.9 355.89h1.9V399.64h-1.9zM475.26 353.21h1.9V356.79h-1.9zM479.98 350.54h1.9V358.57h-1.9zM482.34 336.8h1.9V351.1h-1.9zM484.7 320.7h1.9V336.3h-1.9zM494.14 345.7h1.9V347.5h-1.9zM496.5 332.7h1.9V344.3h-1.9zM501.22 347.5h1.9V350.5h-1.9zM503.58 333.9h1.9V347.9h-1.9zM505.94 327h1.9V334.5h-1.9zM508.3 314.46h1.9V327.86h-1.9zM510.66 294.82h1.9V315.36h-1.9zM515.38 300.18h1.9V303.75h-1.9zM517.74 286.79h1.9V299.29h-1.9zM529.54 296.61h1.9V306.43h-1.9zM531.9 293.93h1.9V296.61h-1.9zM534.26 288.57h1.9V293.93h-1.9zM536.62 285.89h1.9V288.57h-1.9zM538.98 276.96h1.9V288.57h-1.9zM543.7 265.36h1.9V279.64h-1.9zM546.06 252.86h1.9V265.36h-1.9zM548.42 245.71h1.9V252.86h-1.9zM555.5 252.86h1.9V255.54h-1.9zM557.86 244.82h1.9V254.64h-1.9zM564.94 247.5h1.9V251.96h-1.9zM567.3 237.68h1.9V247.5h-1.9zM572.02 239.46h1.9V241.79h-1.9zM574.38 224.29h1.9V240.36h-1.9zM576.74 212h1.9V224.3h-1.9zM579.1 200h1.9V217.1h-1.9zM583.82 227.9h1.9V233.2h-1.9zM586.18 189.6h1.9V227.9h-1.9zM590.9 192.3h1.9V198.6h-1.9zM595.62 188.7h1.9V212.9h-1.9zM605.06 191.43h1.9V203.93h-1.9zM609.78 183.39h1.9V193.21h-1.9zM612.14 174.46h1.9V184.29h-1.9zM616.86 170h1.9V178.93h-1.9zM628.66 197.68h1.9V201.25h-1.9zM631.02 182.5h1.9V198.57h-1.9zM633.38 165.54h1.9V182.5h-1.9zM642.82 148.57h1.9V165.54h-1.9zM645.18 147.14h1.9V149.46h-1.9zM647.54 122.68h1.9V147.68h-1.9zM652.26 118.21h1.9V123.57h-1.9zM654.62 111.07h1.9V119.11h-1.9zM656.98 107.86h1.9V111.07h-1.9zM666.42 123.57h1.9V126.25h-1.9zM668.78 121.79h1.9V124.46h-1.9zM678.22 141.43h1.9V142.86h-1.9zM682.94 161.96h1.9V170.89h-1.9zM685.3 158.39h1.9V162.5h-1.9zM687.66 156.61h1.9V159.29h-1.9zM690.02 145h1.9V156.61h-1.9zM699.46 166.43h1.9V169.11h-1.9zM701.82 162.86h1.9V166.43h-1.9zM708.9 161.96h1.9V165h-1.9zM711.26 145.89h1.9V162.86h-1.9zM718.34 148.57h1.9V152.14h-1.9zM720.7 146.79h1.9V150.36h-1.9zM732.5 175.36h1.9V177.14h-1.9zM734.86 172.14h1.9V175.36h-1.9zM739.58 167.86h1.9V174.46h-1.9zM741.94 166.43h1.9V169.11h-1.9zM744.3 141.43h1.9V170h-1.9zM753.74 141.43h1.9V144.11h-1.9zM756.1 130.71h1.9V143.21h-1.9zM763.18 130.71h1.9V132.86h-1.9zM767.9 137.86h1.9V141.43h-1.9zM770.26 137.86h1.9V140.54h-1.9zM772.62 134.29h1.9V140.54h-1.9zM779.7 151.25h1.9V158.39h-1.9zM784.42 148.57h1.9V156.61h-1.9zM793.86 111.43h1.9V170h-1.9zM796.22 111.43h1.9V112.86h-1.9zM805.66 153.93h1.9V161.96h-1.9zM810.38 153.04h1.9V155.71h-1.9zM817.46 154.82h1.9V160.18h-1.9zM819.82 151.25h1.9V155.36h-1.9zM822.18 137.86h1.9V153.04h-1.9zM829.26 157.5h1.9V159.29h-1.9zM836.34 162.57h1.9V167.41h-1.9zM841.06 165.48h1.9V174.18h-1.9zM850.5 199.33h1.9V205.14h-1.9zM857.58 222.55h1.9V233.19h-1.9zM859.94 202.23h1.9V215.78h-1.9zM864.66 207.07h1.9V216.74h-1.9zM867.02 184.82h1.9V208.04h-1.9zM881.18 213.84h1.9V216.74h-1.9zM888.26 228.35h1.9V235.12h-1.9zM890.62 227.38h1.9V230.29h-1.9zM897.7 261.24h1.9V269.95h-1.9zM900.06 258.34h1.9V262.21h-1.9zM902.42 244.22h1.9V255.44h-1.9zM904.78 243.83h1.9V245.76h-1.9zM911.86 260.27h1.9V267.04h-1.9zM914.22 245.76h1.9V261.24h-1.9zM916.58 238.99h1.9V245.76h-1.9zM918.94 232.22h1.9V238.99h-1.9zM921.3 220.03h1.9V232.22h-1.9zM926.02 214.81h1.9V222.55h-1.9zM928.38 215.78h1.9V217.71h-1.9zM933.1 201.27h1.9V218.68h-1.9zM935.46 196.43h1.9V202.23h-1.9zM942.54 226.42h1.9V234.16h-1.9zM944.9 224.48h1.9V227.38h-1.9zM951.98 212.87h1.9V228.35h-1.9zM954.34 211.91h1.9V214.81h-1.9zM959.06 204.17h1.9V218.68h-1.9zM961.42 188.69h1.9V203.2h-1.9z" fill="#17987e"/>
<path d="M1.52 455.77h0.66V462.83h-0.66zM3.88 463.58h0.66V469.66h-0.66zM6.24 467.49h0.66V471.62h-0.66zM8.6 469.44h0.66V476.48h-0.66zM13.32 469.44h0.66V477.27h-0.66zM20.4 468.46h0.66V476.5h-0.66zM22.76 475.3h0.66V483.71h-0.66zM25.12 479.2h0.66V483.33h-0.66zM27.48 480.18h0.66V487.24h-0.66zM29.84 486.04h0.66V493.1h-0.66zM32.2 489.95h0.66V494.08h-0.66zM36.92 488.97h0.66V505.8h-0.66zM39.28 502.64h0.66V506.77h-0.66zM41.64 513.38h0.66V527.66h-0.66zM44 519.24h0.66V533.12h-0.66zM55.8 514.36h0.66V520.44h-0.66zM58.16 519.24h0.66V525.33h-0.66zM62.88 510.47h0.66V515.56h-0.66zM69.96 510.08h0.66V514.58h-0.66zM72.32 512.41h0.66V516.91h-0.66zM79.4 502.06h0.66V507.75h-0.66zM81.76 503.62h0.66V508.73h-0.66zM91.2 501.27h0.66V503.84h-0.66zM93.56 502.06h0.66V504.82h-0.66zM95.92 503.23h0.66V505.8h-0.66zM98.28 503.62h0.66V519.47h-0.66zM100.64 517.68h0.66V521.42h-0.66zM103 519.24h0.66V522.79h-0.66zM107.72 519.63h0.66V523.37h-0.66zM112.44 523.15h0.66V531.17h-0.66zM121.88 498.74h0.66V504.82h-0.66zM126.6 503.62h0.66V510.47h-0.66zM133.68 497.76h0.66V507.16h-0.66zM136.04 505.96h0.66V509.12h-0.66zM138.4 515.34h0.66V522.19h-0.66zM140.76 516.31h0.66V522.77h-0.66zM150.2 508.5h0.66V511.65h-0.66zM154.92 505.78h0.66V513.61h-0.66zM159.64 504.61h0.66V510.68h-0.66zM162 509.09h0.66V512.63h-0.66zM173.8 491.51h0.66V494.66h-0.66zM176.16 492.88h0.66V496.62h-0.66zM185.6 474.32h0.66V477.48h-0.66zM204.48 457.89h0.66V469.23h-0.66zM211.56 457.68h0.66V464.35h-0.66zM213.92 462.76h0.66V465.91h-0.66zM221 459.63h0.66V464.35h-0.66zM225.72 464.13h0.66V469.82h-0.66zM228.08 467.45h0.66V470.21h-0.66zM230.44 468.03h0.66V473.14h-0.66zM232.8 470.96h0.66V474.12h-0.66zM244.6 462.37h0.66V464.74h-0.66zM249.32 457.5h0.66V466.69h-0.66zM256.4 464.71h0.66V469.23h-0.66zM261.12 453.01h0.66V463.96h-0.66zM263.48 462.76h0.66V470.6h-0.66zM265.84 469.4h0.66V477.44h-0.66zM268.2 476.82h0.66V480.37h-0.66zM270.56 475.47h0.66V480.37h-0.66zM272.92 477.99h0.66V481.72h-0.66zM277.64 474.48h0.66V479.58h-0.66zM280 474.87h0.66V478.02h-0.66zM289.44 469.4h0.66V474.12h-0.66zM291.8 472.92h0.66V477.63h-0.66zM294.16 475.85h0.66V478.61h-0.66zM296.52 476.43h0.66V481.54h-0.66zM298.88 480.73h0.66V495h-0.66zM305.96 481.7h0.66V490.72h-0.66zM308.32 489.52h0.66V494.04h-0.66zM310.68 490.88h0.66V494.62h-0.66zM315.4 479.75h0.66V482.9h-0.66zM327.2 469.61h0.66V474.12h-0.66zM329.56 472.52h0.66V477.81h-0.66zM331.92 473.89h0.66V477.05h-0.66zM334.28 475.85h0.66V479h-0.66zM346.08 470.96h0.66V474.51h-0.66zM362.6 434.83h0.66V443.84h-0.66zM372.04 432.89h0.66V445.21h-0.66zM386.2 401.43h0.66V422.86h-0.66zM388.56 415.11h0.66V421.96h-0.66zM395.64 395.18h0.66V409.17h-0.66zM398 407.97h0.66V413.64h-0.66zM400.36 412.44h0.66V418.1h-0.66zM405.08 410.36h0.66V422.03h-0.66zM416.88 405.29h0.66V409.17h-0.66zM423.96 386.25h0.66V396.67h-0.66zM428.68 363.04h0.66V382.39h-0.66zM431.04 380.83h0.66V393.46h-0.66zM433.4 392.26h0.66V396.67h-0.66zM435.76 395.42h0.66V397.62h-0.66zM449.92 370.18h0.66V383.28h-0.66zM454.64 370.47h0.66V375.24h-0.66zM461.72 353.21h0.66V381.49h-0.66zM464.08 364.82h0.66V396.96h-0.66zM466.44 391.01h0.66V397.5h-0.66zM471.16 389.76h0.66V403.21h-0.66zM478.24 340.71h0.66V363.93h-0.66zM487.68 310.9h0.66V336.9h-0.66zM490.04 335.7h0.66V344h-0.66zM492.4 342.3h0.66V352.3h-0.66zM499.48 332.1h0.66V356.5h-0.66zM513.64 291.25h0.66V303.46h-0.66zM520.72 281.07h0.66V291.85h-0.66zM523.08 284.11h0.66V294.53h-0.66zM525.44 292.44h0.66V303.46h-0.66zM527.8 301.36h0.66V307.92h-0.66zM541.96 261.79h0.66V279.35h-0.66zM551.4 236.79h0.66V260.89h-0.66zM553.76 237.68h0.66V257.92h-0.66zM560.84 244.22h0.66V253.46h-0.66zM563.2 250.47h0.66V255h-0.66zM570.28 232.86h0.66V240.96h-0.66zM582.08 199.8h0.66V232.9h-0.66zM589.16 184.3h0.66V199.2h-0.66zM593.88 193.5h0.66V218h-0.66zM598.6 181.61h0.66V192.92h-0.66zM600.96 190.83h0.66V194.71h-0.66zM603.32 191.72h0.66V204.53h-0.66zM608.04 182.5h0.66V195.6h-0.66zM615.12 173.86h0.66V180.42h-0.66zM619.84 164.64h0.66V175.06h-0.66zM622.2 172.97h0.66V189.64h-0.66zM624.56 182.79h0.66V185.78h-0.66zM626.92 181.01h0.66V200.06h-0.66zM636.36 161.07h0.66V166.14h-0.66zM638.72 155.71h0.66V167.03h-0.66zM641.08 161.96h0.66V178.93h-0.66zM650.52 115.54h0.66V131.61h-0.66zM659.96 104.82h0.66V112.56h-0.66zM662.32 110.83h0.66V125.96h-0.66zM664.68 123.86h0.66V128.1h-0.66zM671.76 121.19h0.66V125.96h-0.66zM674.12 117.32h0.66V134.89h-0.66zM676.48 133.33h0.66V142.92h-0.66zM681.2 141.19h0.66V173.57h-0.66zM693 140.54h0.66V156.31h-0.66zM695.36 150.36h0.66V157.21h-0.66zM697.72 155.11h0.66V169.71h-0.66zM704.8 163.15h0.66V167.03h-0.66zM707.16 163.69h0.66V167.92h-0.66zM714.24 146.19h0.66V150.06h-0.66zM716.6 147.08h0.66V152.74h-0.66zM723.68 147.97h0.66V158.99h-0.66zM726.04 157.79h0.66V163.75h-0.66zM728.4 160.47h0.66V172.39h-0.66zM730.76 169.4h0.66V186.07h-0.66zM737.84 172.08h0.66V175.96h-0.66zM747.28 135.18h0.66V145.6h-0.66zM749.64 144.4h0.66V153.04h-0.66zM752 138.75h0.66V147.74h-0.66zM759.08 120h0.66V133.1h-0.66zM761.44 131.01h0.66V139.64h-0.66zM766.16 131.01h0.66V142.92h-0.66zM775.6 134.04h0.66V142.03h-0.66zM777.96 140.83h0.66V158.1h-0.66zM782.68 149.76h0.66V157.21h-0.66zM787.4 147.68h0.66V153.64h-0.66zM789.76 152.44h0.66V170.6h-0.66zM792.12 169.4h0.66V174.46h-0.66zM799.2 103.04h0.66V127.74h-0.66zM801.56 126.19h0.66V135.78h-0.66zM803.92 133.69h0.66V169.71h-0.66zM808.64 141.43h0.66V157.74h-0.66zM813.36 152.44h0.66V170h-0.66zM815.72 145.89h0.66V162.03h-0.66zM825.16 138.15h0.66V147.39h-0.66zM827.52 145.29h0.66V166.14h-0.66zM839.32 163.91h0.66V170.91h-0.66zM844.04 166.81h0.66V177.68h-0.66zM846.4 173.58h0.66V216.74h-0.66zM848.76 197.77h0.66V211.52h-0.66zM853.48 199.7h0.66V231.85h-0.66zM855.84 229.69h0.66V236.67h-0.66zM862.92 204.54h0.66V223.52h-0.66zM870 181.92h0.66V198.97h-0.66zM872.36 194.86h0.66V198h-0.66zM874.72 195.83h0.66V205.14h-0.66zM877.08 196.8h0.66V216.38h-0.66zM879.44 214.21h0.66V217.34h-0.66zM884.16 209.97h0.66V218.7h-0.66zM886.52 217.11h0.66V234.76h-0.66zM893.6 227.75h0.66V256.04h-0.66zM895.96 254.84h0.66V278.65h-0.66zM907.76 243.62h0.66V247.33h-0.66zM910.12 243.62h0.66V267.64h-0.66zM924.28 217.11h0.66V221.21h-0.66zM931.36 216.14h0.66V218.7h-0.66zM938.44 197.77h0.66V221.21h-0.66zM940.8 221.95h0.66V244.8h-0.66zM947.88 220.61h0.66V227.02h-0.66zM950.24 225.82h0.66V232.22h-0.66zM957.32 208.04h0.66V218.7h-0.66z" fill="#f22a45" opacity="0.85"/>
<path d="M0.9 456.37h1.9V462.23h-1.9zM3.26 464.18h1.9V469.06h-1.9zM5.62 468.09h1.9V471.02h-1.9zM7.98 470.04h1.9V473.95h-1.9zM12.7 470.04h1.9V475.9h-1.9zM19.78 469.06h1.9V475.9h-1.9zM22.14 475.9h1.9V481.76h-1.9zM24.5 479.8h1.9V482.73h-1.9zM26.86 480.78h1.9V486.64h-1.9zM29.22 486.64h1.9V492.5h-1.9zM31.58 490.55h1.9V493.48h-1.9zM36.3 489.57h1.9V505.2h-1.9zM38.66 503.24h1.9V506.17h-1.9zM41.02 513.98h1.9V518.87h-1.9zM43.38 519.84h1.9V531.56h-1.9zM55.18 514.96h1.9V519.84h-1.9zM57.54 519.84h1.9V524.73h-1.9zM62.26 512.03h1.9V514.96h-1.9zM69.34 511.64h1.9V513.98h-1.9zM71.7 513.01h1.9V514.96h-1.9zM78.78 502.66h1.9V507.15h-1.9zM81.14 504.22h1.9V508.12h-1.9zM90.58 501.88h1.9V503.24h-1.9zM92.94 502.66h1.9V504.22h-1.9zM95.3 503.83h1.9V505.2h-1.9zM97.66 504.22h1.9V518.87h-1.9zM100.02 518.28h1.9V520.82h-1.9zM102.38 519.84h1.9V522.19h-1.9zM107.1 520.23h1.9V522.77h-1.9zM111.82 523.75h1.9V527.66h-1.9zM121.26 499.34h1.9V504.22h-1.9zM125.98 504.22h1.9V508.12h-1.9zM133.06 498.36h1.9V506.56h-1.9zM135.42 506.56h1.9V508.52h-1.9zM137.78 515.94h1.9V517.89h-1.9zM140.14 516.91h1.9V520.82h-1.9zM149.58 509.1h1.9V511.05h-1.9zM154.3 508.12h1.9V513.01h-1.9zM159.02 507.15h1.9V510.08h-1.9zM161.38 509.69h1.9V512.03h-1.9zM173.18 492.11h1.9V494.06h-1.9zM175.54 493.48h1.9V496.02h-1.9zM184.98 474.92h1.9V476.88h-1.9zM203.86 463.75h1.9V468.63h-1.9zM210.94 458.28h1.9V463.75h-1.9zM213.3 463.36h1.9V465.31h-1.9zM220.38 460.23h1.9V463.75h-1.9zM225.1 464.73h1.9V469.22h-1.9zM227.46 468.05h1.9V469.61h-1.9zM229.82 468.63h1.9V472.54h-1.9zM232.18 471.56h1.9V473.52h-1.9zM243.98 462.97h1.9V464.14h-1.9zM248.7 461.8h1.9V466.09h-1.9zM255.78 465.31h1.9V468.63h-1.9zM260.5 456.91h1.9V463.36h-1.9zM262.86 463.36h1.9V470h-1.9zM265.22 470h1.9V476.84h-1.9zM267.58 477.42h1.9V479.77h-1.9zM269.94 478.2h1.9V479.77h-1.9zM272.3 478.59h1.9V480.16h-1.9zM277.02 475.08h1.9V478.98h-1.9zM279.38 475.47h1.9V477.42h-1.9zM288.82 470h1.9V473.52h-1.9zM291.18 473.52h1.9V477.03h-1.9zM293.54 476.45h1.9V478.01h-1.9zM295.9 477.03h1.9V480.94h-1.9zM298.26 481.33h1.9V490.7h-1.9zM305.34 482.3h1.9V490.12h-1.9zM307.7 490.12h1.9V493.44h-1.9zM310.06 491.48h1.9V494.02h-1.9zM314.78 480.35h1.9V482.3h-1.9zM326.58 471.17h1.9V473.52h-1.9zM328.94 473.12h1.9V476.45h-1.9zM331.3 474.49h1.9V476.45h-1.9zM333.66 476.45h1.9V478.4h-1.9zM345.46 471.56h1.9V473.91h-1.9zM361.98 435.43h1.9V443.24h-1.9zM371.42 437.97h1.9V444.61h-1.9zM385.58 406.79h1.9V417.5h-1.9zM387.94 415.71h1.9V418.39h-1.9zM395.02 405h1.9V408.57h-1.9zM397.38 408.57h1.9V413.04h-1.9zM399.74 413.04h1.9V417.5h-1.9zM404.46 415.71h1.9V421.43h-1.9zM416.26 405.89h1.9V408.57h-1.9zM423.34 394.64h1.9V396.07h-1.9zM428.06 378.57h1.9V381.79h-1.9zM430.42 381.43h1.9V392.86h-1.9zM432.78 392.86h1.9V396.07h-1.9zM435.14 396.02h1.9V397.02h-1.9zM449.3 379.11h1.9V382.68h-1.9zM454.02 371.07h1.9V374.64h-1.9zM461.1 371.07h1.9V380.89h-1.9zM463.46 376.07h1.9V393.39h-1.9zM465.82 391.61h1.9V394.64h-1.9zM470.54 390.36h1.9V400h-1.9zM477.62 351.43h1.9V360.71h-1.9zM487.06 320.7h1.9V336.3h-1.9zM489.42 336.3h1.9V343.4h-1.9zM491.78 342.9h1.9V346h-1.9zM498.86 332.7h1.9V355.9h-1.9zM513.02 294.82h1.9V302.86h-1.9zM520.1 286.79h1.9V291.25h-1.9zM522.46 291.25h1.9V293.93h-1.9zM524.82 293.04h1.9V302.86h-1.9zM527.18 301.96h1.9V307.32h-1.9zM541.34 276.96h1.9V278.75h-1.9zM550.78 245.71h1.9V258.21h-1.9zM553.14 254.64h1.9V257.32h-1.9zM560.22 244.82h1.9V252.86h-1.9zM562.58 251.07h1.9V253.75h-1.9zM569.66 237.68h1.9V240.36h-1.9zM581.46 200.4h1.9V232.3h-1.9zM588.54 191.4h1.9V198.6h-1.9zM593.26 194.1h1.9V213.7h-1.9zM597.98 187.86h1.9V192.32h-1.9zM600.34 191.43h1.9V194.11h-1.9zM602.7 192.32h1.9V203.93h-1.9zM607.42 191.43h1.9V195h-1.9zM614.5 174.46h1.9V179.82h-1.9zM619.22 170.89h1.9V174.46h-1.9zM621.58 173.57h1.9V184.29h-1.9zM623.94 183.39h1.9V185.18h-1.9zM626.3 181.61h1.9V199.46h-1.9zM635.74 163.75h1.9V165.54h-1.9zM638.1 164.64h1.9V166.43h-1.9zM640.46 165.12h1.9V166.12h-1.9zM649.9 122.68h1.9V128.04h-1.9zM659.34 107.86h1.9V111.96h-1.9zM661.7 111.43h1.9V125.36h-1.9zM664.06 124.46h1.9V127.5h-1.9zM671.14 121.79h1.9V125.36h-1.9zM673.5 125h1.9V134.29h-1.9zM675.86 133.93h1.9V142.32h-1.9zM680.58 141.79h1.9V170.89h-1.9zM692.38 144.11h1.9V155.71h-1.9zM694.74 154.82h1.9V156.61h-1.9zM697.1 155.71h1.9V169.11h-1.9zM704.18 163.75h1.9V166.43h-1.9zM706.54 164.29h1.9V167.32h-1.9zM713.62 146.79h1.9V149.46h-1.9zM715.98 147.68h1.9V152.14h-1.9zM723.06 148.57h1.9V158.39h-1.9zM725.42 158.39h1.9V161.96h-1.9zM727.78 161.07h1.9V171.79h-1.9zM730.14 170h1.9V177.14h-1.9zM737.22 172.68h1.9V175.36h-1.9zM746.66 141.43h1.9V145h-1.9zM749.02 145h1.9V146.79h-1.9zM751.38 145h1.9V147.14h-1.9zM758.46 129.82h1.9V132.5h-1.9zM760.82 131.61h1.9V133.39h-1.9zM765.54 131.61h1.9V142.32h-1.9zM774.98 134.64h1.9V141.43h-1.9zM777.34 141.43h1.9V157.5h-1.9zM782.06 150.36h1.9V156.61h-1.9zM786.78 149.46h1.9V153.04h-1.9zM789.14 153.04h1.9V170h-1.9zM791.5 170h1.9V172.68h-1.9zM798.58 111.43h1.9V127.14h-1.9zM800.94 126.79h1.9V135.18h-1.9zM803.3 134.29h1.9V169.11h-1.9zM808.02 154.82h1.9V157.14h-1.9zM812.74 153.04h1.9V160.18h-1.9zM815.1 158.39h1.9V161.43h-1.9zM824.54 138.75h1.9V146.79h-1.9zM826.9 145.89h1.9V165.54h-1.9zM838.7 164.51h1.9V170.31h-1.9zM843.42 167.41h1.9V177.08h-1.9zM845.78 174.18h1.9V198.37h-1.9zM848.14 198.37h1.9V206.1h-1.9zM852.86 200.3h1.9V231.25h-1.9zM855.22 230.29h1.9V234.16h-1.9zM862.3 205.14h1.9V219.65h-1.9zM869.38 183.28h1.9V198.37h-1.9zM871.74 195.46h1.9V197.4h-1.9zM874.1 196.43h1.9V198.37h-1.9zM876.46 197.4h1.9V215.78h-1.9zM878.82 214.81h1.9V216.74h-1.9zM883.54 214.81h1.9V218.1h-1.9zM885.9 217.71h1.9V234.16h-1.9zM892.98 228.35h1.9V255.44h-1.9zM895.34 255.44h1.9V270.91h-1.9zM907.14 244.22h1.9V246.73h-1.9zM909.5 244.22h1.9V267.04h-1.9zM923.66 217.71h1.9V220.61h-1.9zM930.74 216.74h1.9V218.1h-1.9zM937.82 198.37h1.9V220.61h-1.9zM940.18 222.55h1.9V234.16h-1.9zM947.26 224.48h1.9V226.42h-1.9zM949.62 226.42h1.9V229.32h-1.9zM956.7 214.81h1.9V218.1h-1.9z" fill="#f22a45"/>
<circle cx="39.6" cy="509.5" r="3" fill="#0f0f0f" fill-opacity="0.55" stroke="#2748d8" stroke-width="1.1"/>
<circle cx="138.7" cy="513" r="3" fill="#0f0f0f" fill-opacity="0.55" stroke="#2748d8" stroke-width="1.1"/>
<circle cx="237.9" cy="470.2" r="3" fill="#0f0f0f" fill-opacity="0.55" stroke="#2748d8" stroke-width="1.1"/>
<circle cx="337.1" cy="475.7" r="3" fill="#0f0f0f" fill-opacity="0.55" stroke="#2748d8" stroke-width="1.1"/>
<circle cx="436.25" cy="400" r="3" fill="#0f0f0f" fill-opacity="0.55" stroke="#2748d8" stroke-width="1.1"/>
<circle cx="535.4" cy="289.8" r="3" fill="#0f0f0f" fill-opacity="0.55" stroke="#2748d8" stroke-width="1.1"/>
<circle cx="634.6" cy="173.75" r="3" fill="#0f0f0f" fill-opacity="0.55" stroke="#2748d8" stroke-width="1.1"/>
<circle cx="733.6" cy="181.1" r="3" fill="#0f0f0f" fill-opacity="0.55" stroke="#2748d8" stroke-width="1.1"/>
<circle cx="832.75" cy="164.1" r="3" fill="#0f0f0f" fill-opacity="0.55" stroke="#2748d8" stroke-width="1.1"/>
<circle cx="931.7" cy="212.5" r="3" fill="#0f0f0f" fill-opacity="0.55" stroke="#2748d8" stroke-width="1.1"/>
<rect x="797.1" y="60.5" width="0.8" height="51" fill="#17987e" opacity="0.6"/>
<line x1="797.5" y1="2" x2="797.5" y2="650" stroke="#8c8c8c" stroke-width="1" stroke-dasharray="2.6 2.47" opacity="0.7"/>
<line x1="3" y1="62.5" x2="946" y2="62.5" stroke="#8c8c8c" stroke-width="1" stroke-dasharray="2.6 2.47" stroke-dashoffset="-0.3" opacity="0.75"/>
</svg>
<div class="pl" style="top:21.1px">70,400.0</div>
<div class="pl" style="top:92.42px">69,600.0</div>
<div class="pl" style="top:128.08px">69,200.0</div>
<div class="pl" style="top:163.74px">68,800.0</div>
<div class="pl" style="top:235.06px">68,000.0</div>
<div class="pl" style="top:270.72px">67,600.0</div>
<div class="pl" style="top:306.38px">67,200.0</div>
<div class="pl" style="top:342.04px">66,800.0</div>
<div class="pl" style="top:377.7px">66,400.0</div>
<div class="pl" style="top:413.36px">66,000.0</div>
<div class="pl" style="top:449.02px">65,600.0</div>
<div class="pl" style="top:484.68px">65,200.0</div>
<div class="pl" style="top:520.34px">64,800.0</div>
<div class="pl" style="top:556px">64,400.0</div>
<div class="pl" style="top:591.66px">64,000.0</div>
<div class="pl" style="top:627.32px">63,600.0</div>

<div id="axis">
<div class="tl" style="left:-16.35px">13:00</div>
<div class="tl" style="left:30.85px">14:00</div>
<div class="tl" style="left:78.05px">15:00</div>
<div class="tl" style="left:125.25px">16:00</div>
<div class="tl" style="left:172.45px">17:00</div>
<div class="tl" style="left:219.65px">18:00</div>
<div class="tl" style="left:266.85px">19:00</div>
<div class="tl" style="left:314.05px">20:00</div>
<div class="tl" style="left:361.25px">21:00</div>
<div class="tl" style="left:408.45px">22:00</div>
<div class="tl" style="left:455.65px">23:00</div>
<div class="tl b" style="left:502.85px">26</div>
<div class="tl" style="left:550.05px">01:00</div>
<div class="tl" style="left:597.25px">02:00</div>
<div class="tl" style="left:644.45px">03:00</div>
<div class="tl" style="left:691.65px">04:00</div>
<div class="tl" style="left:738.85px">05:00</div>
<div class="tl" style="left:786.05px">06:00</div>
<div class="tl" style="left:833.25px">07:00</div>
<div class="tl" style="left:880.45px">08:00</div>
<div class="tl" style="left:927.65px">09:00</div>

</div>
<div id="ohlc"><span style="left:200.5px"><b>69,467.9</b></span><span style="left:252.3px">高=<b>70,047.7</b></span><span style="left:322.3px">低=<b>69,420.6</b></span><span style="left:392.2px">收=<b>69,485.3</b></span><span style="left:462.5px"><b>+1.6 (+0.00%)</b></span></div>
<div id="title"><div id="coin"><span>₿</span></div><div id="tname">比特幣/美元 · 3 · OKX</div>
<svg style="position:absolute;left:157px;top:4px" width="12" height="11" viewBox="0 0 12 11"><path d="M0.5 0.5H10.5L7.5 5.5L10.5 10.5H0.5Z" fill="#4a4a4a"/></svg>
<svg style="position:absolute;left:178px;top:6px" width="16" height="6" viewBox="0 0 16 6"><g fill="none" stroke="#dcdcdc" stroke-width="1"><circle cx="3" cy="3" r="1.5"/><circle cx="8" cy="3" r="1.5"/><circle cx="13" cy="3" r="1.5"/></g></svg>
</div>
<div id="sell" class="bs"><div class="p">68,488.3</div><div class="t">賣出</div></div>
<div id="spread">0.1</div>
<div id="buy" class="bs"><div class="p">68,488.4</div><div class="t">買入</div></div>
<div id="vol">成交量 · BTC <b>8</b></div>
<div id="collapse"><svg width="20" height="14" viewBox="0 0 20 14" style="position:absolute;left:0;top:0"><path d="M7 8.5L10 5.5L13 8.5" fill="none" stroke="#e0e0e0" stroke-width="1.3"/></svg></div>
<div id="chl"><svg width="18" height="18" viewBox="0 0 18 18" style="position:absolute;left:0;top:0"><circle cx="8.7" cy="9" r="5.8" fill="none" stroke="#e0e0e0" stroke-width="0.9"/><path d="M5.7 9H11.7M8.7 6V12" stroke="#e0e0e0" stroke-width="0.9"/></svg><i></i><span>70,043.5</span></div>
<div id="lb1">68,619.0</div>
<div id="lb2">68,488.3<br><em>02:38</em></div>
<div id="strip"></div>
<div id="v3">3</div>
<div id="tcl"><span>週四 2026-02-26   05:36</span></div>
<svg style="position:absolute;left:987px;top:654px" width="14" height="14" viewBox="0 0 14 14"><path d="M4 1.5H10L13 7L10 12.5H4L1 7Z" fill="none" stroke="#d8d8d8" stroke-width="1.1" stroke-linejoin="round"/><circle cx="7" cy="7" r="1.8" fill="none" stroke="#d8d8d8" stroke-width="1.1"/></svg>
<svg id="logo" width="135" height="20" viewBox="0 0 135 20"><path d="M0 1H11V14H5.5V6.5H0Z" fill="#dedede"/><circle cx="14.6" cy="3.7" r="2.3" fill="#dedede"/><path d="M18.5 1H25.5L20 14H13Z" fill="#dedede"/><text x="32" y="13.6" font-family="Liberation Sans, sans-serif" font-weight="bold" font-size="17.2" letter-spacing="-0.25" fill="#dedede">TradingView</text></svg>
<svg style="position:absolute;left:787px;top:610.4px" width="12" height="18" viewBox="0 0 12 18"><path d="M1.5 1.2V14L4.6 11.2L6.9 16.4L9 15.5L6.8 10.4H10.8Z" fill="#000" stroke="#e8e8e8" stroke-width="0.85" stroke-linejoin="round"/></svg>
</div>
</body>
</html>
